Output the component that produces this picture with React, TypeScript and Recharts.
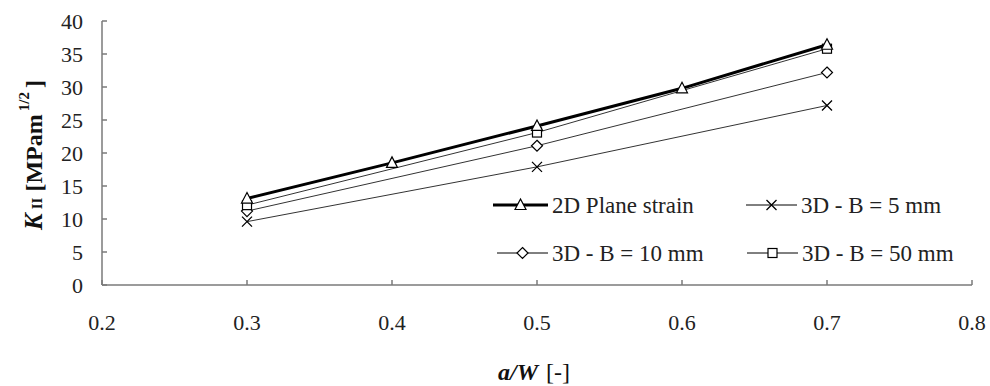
import React from 'react';
import { LineChart, Line, XAxis, YAxis } from 'recharts';

// a/W positions and K_II values
const aW = [0.3, 0.4, 0.5, 0.6, 0.7];
const planeStrain = [13.1, 18.5, 24.1, 29.8, 36.4];
const b5mm = [9.6, null, 17.9, null, 27.2];
const b10mm = [11.2, null, 21.1, null, 32.2];
const b50mm = [12.1, null, 23.1, null, 35.8];

const xTicks = [0.2, 0.3, 0.4, 0.5, 0.6, 0.7, 0.8];
const yTicks = [0, 5, 10, 15, 20, 25, 30, 35, 40];

const seriesNames = ['2D Plane strain', '3D - B = 5 mm', '3D - B = 10 mm', '3D - B = 50 mm'];

const data = aW.map((x, i) => ({
  x,
  ps: planeStrain[i],
  b5: b5mm[i],
  b10: b10mm[i],
  b50: b50mm[i],
}));

const AXIS = '#7a7a7a';
const serif = { fontFamily: "'Liberation Serif'", fontWeight: 400 };
const serifBold = { fontFamily: "'Liberation Serif'", fontWeight: 700 };

type Kind = 'triangle' | 'cross' | 'diamond' | 'square';

function marker(kind: Kind, cx: number, cy: number, key?: React.Key) {
  const common = { fill: '#fff', stroke: '#000', strokeWidth: 1.2 };
  switch (kind) {
    case 'triangle':
      return <path key={key} d={`M${cx},${cy - 6} L${cx + 5.5},${cy + 4.5} L${cx - 5.5},${cy + 4.5} Z`} {...common} />;
    case 'cross':
      return (
        <path
          key={key}
          d={`M${cx - 5},${cy - 5} L${cx + 5},${cy + 5} M${cx + 5},${cy - 5} L${cx - 5},${cy + 5}`}
          stroke="#000"
          strokeWidth={1.3}
          fill="none"
        />
      );
    case 'diamond':
      return <path key={key} d={`M${cx},${cy - 5.5} L${cx + 5.5},${cy} L${cx},${cy + 5.5} L${cx - 5.5},${cy} Z`} {...common} />;
    default:
      return <rect key={key} x={cx - 4.5} y={cy - 4.5} width={9} height={9} {...common} />;
  }
}

const dotOf = (kind: Kind) => (props: any) => {
  const { cx, cy, index, value } = props;
  if (cx == null || cy == null || value == null) return <g key={`e${index}`} />;
  return marker(kind, cx, cy, `${kind}${index}`);
};

const XTick = (props: any) => {
  const { x, y, payload } = props;
  return (
    <g>
      <line x1={x} y1={y} x2={x} y2={y - 5} stroke={AXIS} strokeWidth={1.5} />
      <text x={x} y={y + 45} textAnchor="middle" style={{ ...serif, fontSize: 22 }} fill="#222">
        {Number(payload.value).toFixed(1)}
      </text>
    </g>
  );
};

const YTick = (props: any) => {
  const { x, y, payload } = props;
  return (
    <g>
      <line x1={x} y1={y} x2={x + 5} y2={y} stroke={AXIS} strokeWidth={1.5} />
      <text x={x - 19} y={y} dy="0.35em" textAnchor="end" style={{ ...serif, fontSize: 22 }} fill="#222">
        {payload.value}
      </text>
    </g>
  );
};

const legendItems: { name: string; kind: Kind; thick: boolean; x: number; y: number }[] = [
  { name: seriesNames[0], kind: 'triangle', thick: true, x: 493, y: 205 },
  { name: seriesNames[1], kind: 'cross', thick: false, x: 746, y: 205 },
  { name: seriesNames[2], kind: 'diamond', thick: false, x: 497, y: 253 },
  { name: seriesNames[3], kind: 'square', thick: false, x: 747, y: 253 },
];

function Overlay() {
  return (
    <svg width={990} height={386} style={{ position: 'absolute', left: 0, top: 0, pointerEvents: 'none' }}>
      <g transform="translate(42,155) rotate(-90)" fill="#111">
        <text textAnchor="middle" style={serifBold}>
          <tspan style={{ ...serifBold, fontStyle: 'italic', fontSize: 25 }}>K</tspan>
          <tspan style={{ ...serifBold, fontSize: 15 }} dx={4}>II</tspan>
          <tspan style={{ ...serifBold, fontSize: 24 }} dx={6}>[MPam</tspan>
          <tspan style={{ ...serifBold, fontSize: 15 }} dx={3} dy={-13}>1/2</tspan>
          <tspan style={{ ...serifBold, fontSize: 24 }} dy={13} dx={4}>]</tspan>
        </text>
      </g>
      <text x={498} y={380} fill="#111" style={{ ...serif, fontSize: 24 }}>
        <tspan style={{ ...serifBold, fontStyle: 'italic', fontSize: 24 }}>a/W</tspan>
        <tspan style={{ ...serif, fontSize: 24 }} dx={8}>[-]</tspan>
      </text>
      {legendItems.map((it) => {
        const x2 = it.thick ? it.x + 55 : it.x + 51;
        const mid = (it.x + x2) / 2;
        return (
          <g key={it.name}>
            <line x1={it.x} y1={it.y} x2={x2} y2={it.y} stroke="#000" strokeWidth={it.thick ? 3 : 1} />
            {marker(it.kind, mid, it.y)}
            <text x={x2 + 4} y={it.y} dy="0.35em" style={{ ...serif, fontSize: 23 }} fill="#222">
              {it.name}
            </text>
          </g>
        );
      })}
    </svg>
  );
}

export default function App() {
  return (
    <div style={{ position: 'absolute', left: 0, top: 0, width: 990, height: 386, background: '#fff' }}>
      <LineChart width={990} height={386} data={data} margin={{ top: 21, right: 18, left: 0, bottom: 0 }}>
        <XAxis
          type="number"
          dataKey="x"
          domain={[0.2, 0.8]}
          ticks={xTicks}
          height={101}
          tickSize={0}
          tickMargin={0}
          tickLine={false}
          axisLine={{ stroke: AXIS, strokeWidth: 1.5 }}
          tick={<XTick />}
          interval={0}
        />
        <YAxis
          type="number"
          domain={[0, 40]}
          ticks={yTicks}
          width={102}
          tickSize={0}
          tickMargin={0}
          tickLine={false}
          axisLine={{ stroke: AXIS, strokeWidth: 1.5 }}
          tick={<YTick />}
          interval={0}
        />
        <Line dataKey="b5" stroke="#333" strokeWidth={1} connectNulls dot={dotOf('cross')} isAnimationActive={false} />
        <Line dataKey="b10" stroke="#333" strokeWidth={1} connectNulls dot={dotOf('diamond')} isAnimationActive={false} />
        <Line dataKey="b50" stroke="#333" strokeWidth={1} connectNulls dot={dotOf('square')} isAnimationActive={false} />
        <Line dataKey="ps" stroke="#000" strokeWidth={3} dot={dotOf('triangle')} isAnimationActive={false} />
      </LineChart>
      <Overlay />
    </div>
  );
}
